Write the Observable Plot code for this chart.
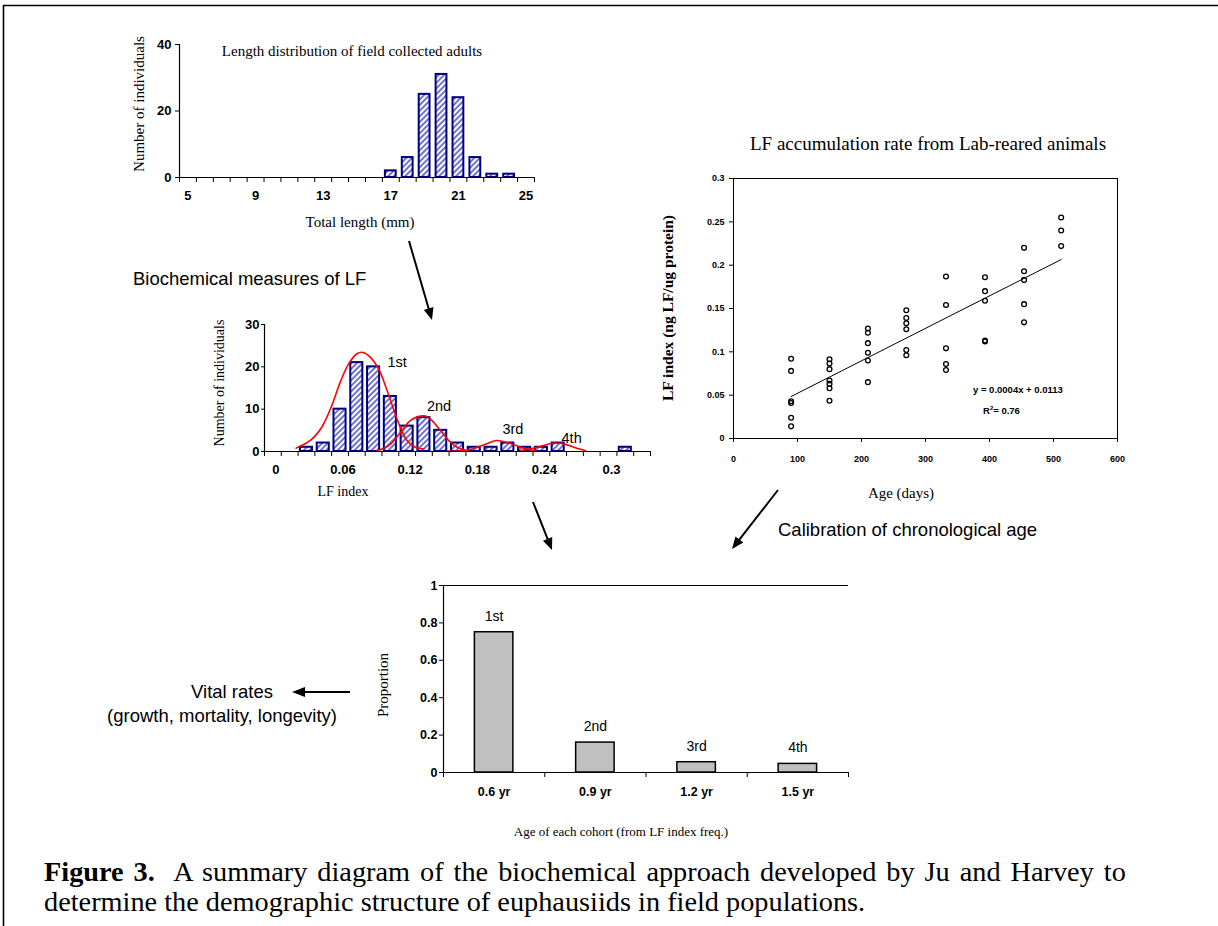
<!DOCTYPE html>
<html>
<head>
<meta charset="utf-8">
<script src="https://cdn.jsdelivr.net/npm/d3@7"></script>
<script src="https://cdn.jsdelivr.net/npm/@observablehq/plot@0.6"></script>
<style>
  html, body { margin: 0; padding: 0; background: #fff; }
  #page { position: relative; width: 1218px; height: 926px; overflow: hidden; background: #fff; }
  #overlay { position: absolute; left: 0; top: 0; pointer-events: none; }
  .serif { font-family: "Liberation Serif", "Times New Roman", serif; }
  .sans { font-family: "Liberation Sans", Arial, sans-serif; }
</style>
</head>
<body>
<div id="page"></div>
<script>
// ================= DATA =================
// Panel 1: length distribution of field collected adults
const lengthCategories = [5, 6, 7, 8, 9, 10, 11, 12, 13, 14, 15, 16, 17, 18, 19, 20, 21, 22, 23, 24, 25];
const lengthBins = [17, 18, 19, 20, 21, 22, 23, 24];
const lengthCounts = [2, 6, 25, 31, 24, 6, 1, 1];
const lengthTickLabels = [5, 9, 13, 17, 21, 25];
const lengthCountTicks = [0, 20, 40];

// Panel 2: LF index frequency
const lfCategories = [0, 0.015, 0.03, 0.045, 0.06, 0.075, 0.09, 0.105, 0.12, 0.135, 0.15, 0.165, 0.18, 0.195, 0.21, 0.225, 0.24, 0.255, 0.27, 0.285, 0.3, 0.315, 0.33];
const lfBins = [0.03, 0.045, 0.06, 0.075, 0.09, 0.105, 0.12, 0.135, 0.15, 0.165, 0.18, 0.195, 0.21, 0.225, 0.24, 0.255, 0.27, 0.285, 0.3, 0.315];
const lfCounts = [1, 2, 10, 21, 20, 13, 6, 8, 5, 2, 1, 1, 2, 1, 1, 2, 0, 0, 0, 1];
const lfTickLabels = [0, 0.06, 0.12, 0.18, 0.24, 0.3];
const lfCountTicks = [0, 10, 20, 30];
// fitted cohort curves
const curve1X = [0.0208, 0.0334, 0.0438, 0.0527, 0.0602, 0.0677, 0.0751, 0.0805, 0.0870, 0.0945, 0.1005, 0.1073, 0.1133, 0.1198, 0.1273, 0.1347];
const curve1Y = [0.8, 2.6, 5.8, 10.9, 16.4, 20.7, 23.1, 23.4, 22.3, 19.5, 15.6, 10.4, 6.1, 2.6, 1.0, 0.6];
const curve2X = [0.093, 0.1049, 0.1139, 0.1228, 0.1303, 0.1362, 0.1422, 0.1497, 0.1571, 0.1646, 0.1735];
const curve2Y = [0.1, 1.7, 4.5, 7.3, 8.3, 8.4, 7.3, 5.0, 2.6, 1.0, 0.2];
const curve3X = [0.1556, 0.172, 0.1869, 0.2003, 0.2108, 0.2227, 0.2346];
const curve3Y = [0.1, 0.2, 1.4, 2.6, 2.0, 0.9, 0.2];
const curve4X = [0.2212, 0.2361, 0.2511, 0.26, 0.269, 0.2794];
const curve4Y = [0.2, 1.0, 2.0, 1.8, 1.0, 0.2];
const cohortLabelText = ["1st", "2nd", "3rd", "4th"];
const cohortLabelX = [0.111, 0.1485, 0.2145, 0.267];
const cohortLabelY = [21.1, 10.7, 5.3, 3.2];

// Panel 3: LF accumulation rate of lab-reared animals
const ageDays = [90, 90, 90, 90, 90, 90,
  150, 150, 150, 150, 150, 150, 150,
  210, 210, 210, 210, 210, 210,
  270, 270, 270, 270, 270, 270,
  332, 332, 332, 332, 332,
  393, 393, 393, 393, 393,
  454, 454, 454, 454, 454,
  512, 512, 512];
const lfIndex = [0.092, 0.078, 0.043, 0.041, 0.024, 0.014,
  0.0915, 0.0865, 0.08, 0.067, 0.063, 0.058, 0.0435,
  0.127, 0.122, 0.11, 0.099, 0.09, 0.065,
  0.148, 0.139, 0.133, 0.126, 0.102, 0.096,
  0.187, 0.154, 0.104, 0.086, 0.079,
  0.186, 0.17, 0.159, 0.113, 0.112,
  0.22, 0.193, 0.183, 0.155, 0.134,
  0.255, 0.24, 0.222];
const ageTicks = [0, 100, 200, 300, 400, 500, 600];
const lfIndexTicks = [0, 0.05, 0.1, 0.15, 0.2, 0.25, 0.3];
const regressionEquation = "y = 0.0004x + 0.0113";
const regressionR2 = "0.76";

// Panel 4: proportion of each cohort
const cohortAges = ["0.6 yr", "0.9 yr", "1.2 yr", "1.5 yr"];
const cohortProportions = [0.75, 0.16, 0.055, 0.046];
const cohortNames = ["1st", "2nd", "3rd", "4th"];
const proportionTicks = [0, 0.2, 0.4, 0.6, 0.8, 1];

// ================= HELPERS =================
const page = document.getElementById("page");
const fmt = d => String(+d.toFixed(2));
function place(el, left, top) {
  el.style.position = "absolute";
  el.style.left = left + "px";
  el.style.top = top + "px";
  page.appendChild(el);
}
const baseStyle = "font-family: 'Liberation Sans', Arial, sans-serif; color: black; background: transparent; overflow: visible;";

// ================= PANEL 1 =================
{
  const table = lengthBins.map((b, i) => ({bin: b, count: lengthCounts[i]}));
  const lo = lengthCategories[0] - 0.5, hi = lengthCategories[lengthCategories.length - 1] + 0.5;
  const bounds = [lo, ...lengthCategories.map(c => c + 0.5)];
  const chart = Plot.plot({
    width: 430, height: 200,
    marginLeft: 59, marginRight: 16, marginTop: 14, marginBottom: 53,
    x: {type: "linear", domain: [lo, hi], axis: null},
    y: {domain: [0, 40], axis: null},
    style: baseStyle + "font-size: 13px; font-weight: bold;",
    marks: [
      Plot.rect(table, {x1: d => d.bin - 0.32, x2: d => d.bin + 0.32, y1: d => 0, y2: "count",
        fill: "url(#hatch)", stroke: "#00007f", strokeWidth: 2}),
      Plot.ruleY([0], {stroke: "black", strokeWidth: 1.2}),
      Plot.ruleX([lo], {stroke: "black", strokeWidth: 1.2}),
      Plot.axisY(lengthCountTicks, {tickSize: 4, tickPadding: 4, label: null}),
      Plot.axisX(bounds, {tickSize: 5, tickFormat: () => "", label: null}),
      Plot.axisX(lengthTickLabels, {tickSize: 0, tickPadding: 13, label: null})
    ]
  });
  place(chart, 120, 30);
}

// ================= PANEL 2 =================
{
  const step = lfCategories[1] - lfCategories[0];
  const lo = lfCategories[0] - step / 2, hi = lfCategories[lfCategories.length - 1] + step / 2;
  const bounds = [lo, ...lfCategories.map(c => c + step / 2)];
  const half = step * 0.36;
  const table = lfBins.map((b, i) => ({bin: b, count: lfCounts[i]})).filter(d => d.count > 0);
  const curves = [
    ...curve1X.map((x, i) => ({cohort: 1, x, y: curve1Y[i]})),
    ...curve2X.map((x, i) => ({cohort: 2, x, y: curve2Y[i]})),
    ...curve3X.map((x, i) => ({cohort: 3, x, y: curve3Y[i]})),
    ...curve4X.map((x, i) => ({cohort: 4, x, y: curve4Y[i]}))
  ];
  const labels = cohortLabelText.map((t, i) => ({t, x: cohortLabelX[i], y: cohortLabelY[i]}));
  const chart = Plot.plot({
    width: 460, height: 175,
    marginLeft: 59, marginRight: 15, marginTop: 14, marginBottom: 34,
    x: {type: "linear", domain: [lo, hi], axis: null},
    y: {domain: [0, 30], axis: null},
    style: baseStyle + "font-size: 13px; font-weight: bold;",
    marks: [
      Plot.rect(table, {x1: d => d.bin - half, x2: d => d.bin + half, y1: d => 0, y2: "count",
        fill: "url(#hatch)", stroke: "#00007f", strokeWidth: 2}),
      Plot.line(curves, {x: "x", y: "y", z: "cohort", stroke: "#ff0000", strokeWidth: 1.6, curve: "catmull-rom"}),
      Plot.ruleY([0], {stroke: "black", strokeWidth: 1.2}),
      Plot.ruleX([lo], {stroke: "black", strokeWidth: 1.2}),
      Plot.axisY(lfCountTicks, {tickSize: 3, tickPadding: 2, label: null}),
      Plot.axisX(bounds, {tickSize: 5, tickFormat: () => "", label: null}),
      Plot.axisX(lfTickLabels, {tickSize: 0, tickPadding: 13, dx: 3, tickFormat: fmt, label: null}),
      Plot.text(labels, {x: "x", y: "y", text: "t", fontSize: 14.5, fontWeight: "normal", fill: "black"})
    ]
  });
  place(chart, 205, 310);
}

// ================= PANEL 3 =================
{
  const table = ageDays.map((a, i) => ({age: a, lf: lfIndex[i]}));
  const chart = Plot.plot({
    width: 440, height: 300,
    marginLeft: 43, marginRight: 13, marginTop: 8, marginBottom: 32,
    x: {domain: [0, 600], axis: null},
    y: {domain: [0, 0.3], axis: null},
    style: baseStyle + "font-size: 9px; font-weight: bold;",
    marks: [
      Plot.frame({stroke: "black", strokeWidth: 1}),
      Plot.linearRegressionY(table, {x: "age", y: "lf", ci: 0, stroke: "black", strokeWidth: 1}),
      Plot.dot(table, {x: "age", y: "lf", r: 2.4, stroke: "black", strokeWidth: 1.3, fill: "none"}),
      Plot.axisX(ageTicks, {tickSize: 4, tickPadding: 13, label: null}),
      Plot.axisY(lfIndexTicks, {tickSize: 4, tickPadding: 5, tickFormat: fmt, label: null})
    ]
  });
  place(chart, 690, 170);
}

// ================= PANEL 4 =================
{
  const table = cohortAges.map((a, i) => ({i, age: a, p: cohortProportions[i], name: cohortNames[i]}));
  const n = cohortAges.length;
  const bounds = d3.range(n + 1);
  const centers = cohortAges.map((a, i) => i + 0.5);
  const chart = Plot.plot({
    width: 490, height: 235,
    marginLeft: 73, marginRight: 12, marginTop: 10, marginBottom: 38,
    x: {domain: [0, n], axis: null},
    y: {domain: [0, 1], axis: null},
    style: baseStyle + "font-size: 12.5px; font-weight: bold;",
    marks: [
      Plot.rect(table, {x1: d => d.i + 0.31, x2: d => d.i + 0.69, y1: d => 0, y2: "p",
        fill: "#c0c0c0", stroke: "black", strokeWidth: 1.5}),
      Plot.ruleY([0], {stroke: "black", strokeWidth: 1.2}),
      Plot.ruleY([1], {stroke: "black", strokeWidth: 1.2}),
      Plot.ruleX([0], {stroke: "black", strokeWidth: 1.2}),
      Plot.axisY(proportionTicks, {tickSize: 4, tickPadding: 2, tickFormat: d => String(d), label: null}),
      Plot.axisX(bounds, {tickSize: 5, tickFormat: () => "", label: null}),
      Plot.axisX(centers, {tickSize: 0, tickPadding: 15, tickFormat: d => cohortAges[Math.floor(d)], label: null}),
      Plot.text(table, {x: d => d.i + 0.5, y: "p", text: "name", dy: -16, fontSize: 14, fontWeight: "normal", fill: "black"})
    ]
  });
  place(chart, 370, 575);
}

// ================= OVERLAY: frame, titles, arrows, caption =================
function arrow(x1, y1, x2, y2, head = 12, half = 5) {
  const dx = x2 - x1, dy = y2 - y1, len = Math.hypot(dx, dy);
  const ux = dx / len, uy = dy / len;
  const bx = x2 - ux * head, by = y2 - uy * head;
  const px = -uy * half, py = ux * half;
  return `<line x1="${x1}" y1="${y1}" x2="${bx + ux}" y2="${by + uy}" stroke="black" stroke-width="2"/>
    <polygon points="${x2},${y2} ${bx + px},${by + py} ${bx - px},${by - py}" fill="black"/>`;
}
const overlay = `
<svg id="overlay" width="1218" height="926" xmlns="http://www.w3.org/2000/svg">
  <defs>
    <pattern id="hatch" patternUnits="userSpaceOnUse" width="4" height="4" patternTransform="rotate(45)">
      <rect width="4" height="4" fill="#ffffff"/>
      <rect width="1.9" height="4" fill="#6c6ccd"/>
    </pattern>
  </defs>
  <line x1="3" y1="5.5" x2="1218" y2="5.5" stroke="black" stroke-width="1.6"/>
  <line x1="3.5" y1="5" x2="3.5" y2="926" stroke="black" stroke-width="1.6"/>

  <text class="serif" x="352" y="56" font-size="15" text-anchor="middle">Length distribution of field collected adults</text>
  <text class="serif" font-size="15" text-anchor="middle" transform="translate(144,104) rotate(-90)">Number of individuals</text>
  <text class="serif" x="360" y="227" font-size="15" text-anchor="middle">Total length (mm)</text>

  <text class="sans" x="133" y="285" font-size="18.5">Biochemical measures of LF</text>

  <text class="serif" font-size="14" text-anchor="middle" transform="translate(224,383) rotate(-90)">Number of individuals</text>
  <text class="serif" x="343" y="496" font-size="14" text-anchor="middle">LF index</text>

  <text class="serif" x="928" y="150" font-size="19" text-anchor="middle">LF accumulation rate from Lab-reared animals</text>
  <text class="serif" font-weight="bold" font-size="15.5" text-anchor="middle" transform="translate(673,308) rotate(-90)">LF index (ng LF/ug protein)</text>
  <text class="serif" x="901" y="498" font-size="15" text-anchor="middle">Age (days)</text>
  <text class="sans" x="973" y="393" font-size="9.5" font-weight="bold">${regressionEquation}</text>
  <text class="sans" x="983" y="414" font-size="9.5" font-weight="bold">R<tspan dy="-4" font-size="6">2</tspan><tspan dy="4">= ${regressionR2}</tspan></text>

  <text class="sans" x="778" y="536" font-size="18.5">Calibration of chronological age</text>
  <text class="sans" x="232" y="698" font-size="18.5" text-anchor="middle">Vital rates</text>
  <text class="sans" x="222" y="722" font-size="18.5" text-anchor="middle">(growth, mortality, longevity)</text>

  <text class="serif" font-size="15" text-anchor="middle" transform="translate(388,685) rotate(-90)">Proportion</text>
  <text class="serif" x="621" y="836" font-size="13" text-anchor="middle">Age of each cohort (from LF index freq.)</text>

  <text class="serif" x="44" y="881" font-size="28.3" word-spacing="2.9" xml:space="preserve"><tspan font-weight="bold">Figure 3.</tspan>  A summary diagram of the biochemical approach developed by Ju and Harvey to</text>
  <text class="serif" x="44" y="911" font-size="28.3">determine the demographic structure of euphausiids in field populations.</text>

  ${arrow(409, 241, 432, 320)}
  ${arrow(533, 502, 552, 550)}
  ${arrow(778, 490, 732, 549)}
  ${arrow(350, 692, 292, 692, 13, 5)}
</svg>`;
page.insertAdjacentHTML("beforeend", overlay);
</script>
</body>
</html>
